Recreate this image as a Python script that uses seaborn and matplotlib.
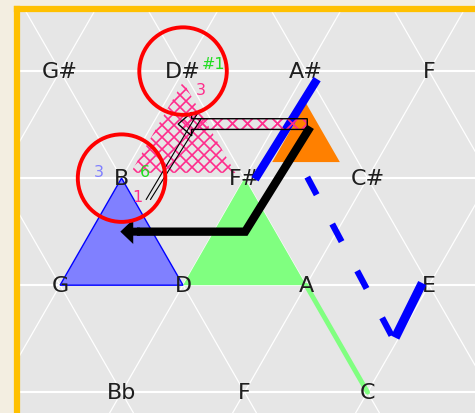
import numpy as np
import pandas as pd
import matplotlib
matplotlib.use("Agg")
import matplotlib.pyplot as plt
from matplotlib.patches import Polygon, FancyArrow
import seaborn as sns

# ==========================================================
# DATA  (lattice units: u = half note spacing, r = row)
# ==========================================================

NOTE_ROWS = [
    ["G#", "D#", "A#", "F"],
    ["B", "F#", "C#"],
    ["G", "D", "A", "E"],
    ["Bb", "F", "C"],
]

# triangles: (notes, shrink factor, fill, edge)
TRI_BLUE = ["G", "D", "B"]
TRI_GREEN = ["D", "A", "F#"]
TRI_PINK = ["D#", "B", "F#"]
TRI_ORANGE = ["A#", "F#", "C#"]
PINK_SCALE = 0.85
ORANGE_SCALE = 0.55

GREEN_LINE = ["A", "C"]

BLUE_SOLID_U = [4.18, 3.17]
BLUE_SOLID_R = [0.075, 1.01]
BLUE_DASH_U = [4.02, 5.40]
BLUE_DASH_R = [0.99, 2.48]
BLUE_TICK_U = [5.45, 5.89]
BLUE_TICK_R = [2.49, 1.98]

BLACK_PATH_U = [4.07, 3.01, 1.25]
BLACK_PATH_R = [0.52, 1.50, 1.50]
BLACK_TIP_U = 0.98

PINK_ARROW_U = [4.02, 1.92]
PINK_ARROW_R = 0.495
PINK_DIAG_U = [[2.23, 1.40], [2.30, 1.47]]
PINK_DIAG_R = [[0.40, 1.20], [0.44, 1.20]]

CIRCLED = ["D#", "B"]

# small numbers: text, anchor note, du, dr, colour
SMALL_LABELS = [
    ("#1", "D#", 0.49, -0.075, "#22DD22"),
    ("3", "D#", 0.29, 0.17, "#FF2D8C"),
    ("3", "B", -0.37, -0.065, "#8080FF"),
    ("6", "B", 0.38, -0.065, "#22DD22"),
    ("1", "B", 0.25, 0.17, "#FF2D8C"),
]

PINK = "#FF2D8C"

# ==========================================================
# HELPERS
# ==========================================================

pos = {}
for r, row in enumerate(NOTE_ROWS):
    for i, name in enumerate(row):
        pos.setdefault(name, (2 * i + r % 2, r))


def tri_points(names, scale=1.0):
    pts = np.array([pos[n] for n in names], dtype=float)
    c = pts.mean(axis=0)
    return c + (pts - c) * scale


def hatch_lines(ax, patch, spacing_px, color, lw=1.2, zorder=3):
    # 45 degree crosshatch in pixel space, clipped to the patch
    for sign in (1, -1):
        for c in np.arange(-900, 900, spacing_px):
            rr = np.array([-1.0, 4.0])
            uu = (c + sign * 107 * rr) / 61.5
            ln, = ax.plot(uu, rr, color=color, lw=lw, zorder=zorder)
            ln.set_clip_path(patch)


# ==========================================================
# PLOT
# ==========================================================

sns.set_theme(style="white")
plt.rcParams['font.family'] = ['DejaVu Sans']

fig = plt.figure(figsize=(4.75, 4.14), dpi=100, facecolor="#F3EEE1")
ax = fig.add_axes([17 / 475, -6 / 414, 460 / 475, 410 / 414])
ax.set_facecolor("#E6E6E6")
ax.set_xlim(-0.70, 6.78)
ax.set_ylim(3.25, -0.58)
ax.set_xticks([])
ax.set_yticks([])
for s in ax.spines.values():
    s.set_color("#FFC000")
    s.set_linewidth(4.5)

# lattice
for r in range(len(NOTE_ROWS)):
    ax.axhline(r, color="white", lw=1.5, zorder=1)
rr = np.array([-1, 4])
for k in range(-6, 14, 2):
    ax.plot(k + rr, rr, color="white", lw=0.9, zorder=1)
    ax.plot(k - rr, rr, color="white", lw=0.9, zorder=1)

# triangles
ax.add_patch(Polygon(tri_points(TRI_BLUE), closed=True, fc="#8080FF",
                     ec="#0000FF", lw=1, zorder=2))
ax.add_patch(Polygon(tri_points(TRI_GREEN), closed=True, fc="#80FF80",
                     ec="none", zorder=2))
pink_tri = Polygon(tri_points(TRI_PINK, PINK_SCALE), closed=True,
                   fc="none", ec="none", zorder=2)
ax.add_patch(pink_tri)
hatch_lines(ax, pink_tri, 12, PINK)
ax.add_patch(Polygon(tri_points(TRI_ORANGE, ORANGE_SCALE), closed=True,
                     fc="#FF8000", ec="none", zorder=2))

# green edge A -> C
g = pd.DataFrame({"u": [pos[n][0] for n in GREEN_LINE],
                  "r": [pos[n][1] for n in GREEN_LINE]})
sns.lineplot(data=g, x="u", y="r", sort=False, estimator=None,
             color="#80FF80", lw=3.5, zorder=3, ax=ax)

# note names
for name, (u, r) in [(n, (2 * i + ri % 2, ri)) for ri, row in enumerate(NOTE_ROWS)
                     for i, n in enumerate(row)]:
    ax.text(u, r, name, ha="center", va="center", fontsize=16,
            color="#1E1E1E", zorder=4)

# blue voice lines
sns.lineplot(x=BLUE_SOLID_U, y=BLUE_SOLID_R, sort=False, estimator=None,
             color="#0000FF", lw=6, solid_capstyle="butt", zorder=5, ax=ax)
sns.lineplot(x=BLUE_DASH_U, y=BLUE_DASH_R, sort=False, estimator=None,
             color="#0000FF", lw=4.5, linestyle=(0, (3.2, 5.3)),
             dash_capstyle="butt", zorder=5, ax=ax)
sns.lineplot(x=BLUE_TICK_U, y=BLUE_TICK_R, sort=False, estimator=None,
             color="#0000FF", lw=6.5, solid_capstyle="butt", zorder=5, ax=ax)

# black arrow
sns.lineplot(x=BLACK_PATH_U, y=BLACK_PATH_R, sort=False, estimator=None,
             color="black", lw=6, solid_joinstyle="miter",
             solid_capstyle="butt", zorder=6, ax=ax)
ax.add_patch(FancyArrow(BLACK_PATH_U[-1] + 0.05, BLACK_PATH_R[-1],
                        BLACK_TIP_U - BLACK_PATH_U[-1] - 0.05, 0,
                        width=0.075, head_width=0.23, head_length=0.21,
                        length_includes_head=True, color="black", lw=0,
                        zorder=6))

# pink hatched arrow
arr_kw = dict(width=0.10, head_width=0.22, head_length=0.22,
              length_includes_head=True)
dx = PINK_ARROW_U[1] - PINK_ARROW_U[0]
pink_arr = FancyArrow(PINK_ARROW_U[0], PINK_ARROW_R, dx, 0, fc="none",
                      ec="none", zorder=7, **arr_kw)
ax.add_patch(pink_arr)
hatch_lines(ax, pink_arr, 15, PINK, lw=1.3, zorder=7)
ax.add_patch(FancyArrow(PINK_ARROW_U[0], PINK_ARROW_R, dx, 0, fc="none",
                        ec="black", lw=1, zorder=7, **arr_kw))
for uu, rrr in zip(PINK_DIAG_U, PINK_DIAG_R):
    ax.plot(uu, rrr, color="black", lw=0.8, zorder=7)

# red circles
ax.scatter([pos[n][0] for n in CIRCLED], [pos[n][1] for n in CIRCLED],
           s=63 ** 2, facecolors="none", edgecolors="#FF0000",
           linewidths=2.8, zorder=8)

# small numbers
for txt, anchor, du, dr, col in SMALL_LABELS:
    u, r = pos[anchor]
    ax.text(u + du, r + dr, txt, ha="center", va="center", fontsize=11.5,
            color=col, zorder=9)

fig.savefig("out.png", dpi=100, facecolor=fig.get_facecolor())
